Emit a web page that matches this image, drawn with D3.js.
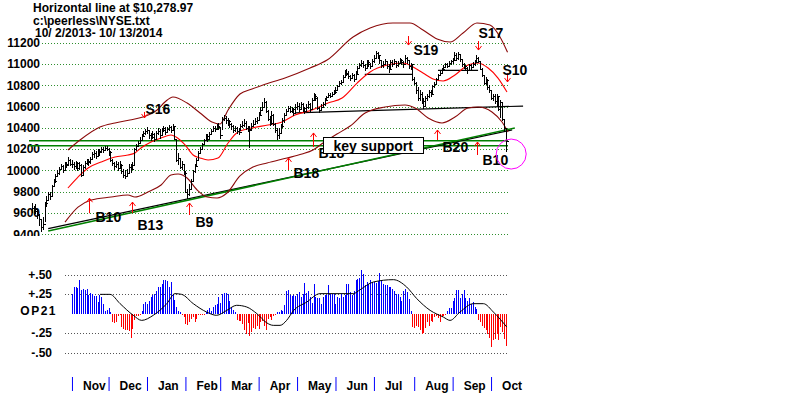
<!DOCTYPE html>
<html>
<head>
<meta charset="utf-8">
<script src="https://cdn.jsdelivr.net/npm/d3@7"></script>
<style>
body { margin: 0; background: #fff; }
svg { display: block; font-family: Arial, "Liberation Sans", sans-serif; }
</style>
</head>
<body>
<div id="chart"></div>
<script>
const width = 800;
const height = 395;

// NYSE daily bars 10/2/2013 - 10/13/2014, one row per month
const highs = [
  9690, 9670, 9680, 9640, 9590, 9540, 9560, 9700, 9760, 9800, 9800, 9860, 9920, 9970, 10000, 10030, 10060, 10050, 10080, 10080, 10130, 10110,
  10100, 10080, 10090, 10080, 10080, 10060, 10050, 10090, 10110, 10110, 10130, 10170, 10190, 10180, 10200, 10200, 10220, 10220, 10230, 10230,
  10210, 10180, 10110, 10080, 10090, 10080, 10090, 10060, 10010, 10000, 10010, 10060, 10060, 10080, 10210, 10250, 10280, 10310, 10340, 10370, 10390,
  10410, 10380, 10350, 10370, 10350, 10370, 10400, 10390, 10400, 10420, 10410, 10410, 10430, 10420, 10440, 10420, 10300, 10160, 10120, 10090, 10060,
  9990, 9830, 9870, 9920, 10000, 10060, 10120, 10180, 10220, 10260, 10300, 10340, 10340, 10360, 10390, 10420, 10420, 10440, 10450,
  10400, 10500, 10520, 10510, 10490, 10470, 10450, 10430, 10420, 10410, 10400, 10440, 10460, 10480, 10460, 10420, 10420, 10450, 10470, 10490, 10500,
  10550, 10600, 10640, 10680, 10650, 10570, 10510, 10560, 10530, 10450, 10400, 10400, 10440, 10490, 10540, 10580, 10610, 10610, 10600, 10590, 10620,
  10640, 10630, 10640, 10630, 10600, 10620, 10650, 10630, 10680, 10730, 10720, 10690, 10600, 10620, 10640, 10680, 10700, 10730, 10730, 10740, 10760,
  10780, 10800, 10840, 10850, 10900, 10940, 10950, 10930, 10900, 10920, 10910, 10930, 10980, 11010, 11040, 11030, 11000, 11040, 11040, 11010, 11050,
  11080, 11120, 11110, 11080, 11040, 11030, 11050, 11030, 11000, 11040, 11040, 11050, 11030, 11030, 11060, 11050, 11030, 11080, 11070, 11040, 11010, 10990,
  10880, 10830, 10780, 10760, 10740, 10680, 10700, 10720, 10760, 10760, 10800, 10830, 10870, 10910, 10940, 10960, 10990, 11010, 11010, 11030, 11040,
  11060, 11110, 11100, 11110, 11090, 11040, 11010, 10990, 10970, 11000, 11000, 11020, 11040, 11080, 11070, 11030, 10960, 10900, 10880, 10860, 10800,
  10760, 10720, 10720, 10720, 10700, 10660, 10640, 10480, 10400
];
const lows = [
  9600, 9580, 9590, 9540, 9480, 9420, 9440, 9520, 9660, 9720, 9720, 9760, 9840, 9880, 9940, 9960, 10000, 9980, 10000, 10020, 10040, 10040,
  10020, 10000, 10010, 9990, 10000, 9940, 9960, 10010, 10050, 10040, 10060, 10100, 10120, 10110, 10130, 10140, 10160, 10160, 10180, 10180,
  10140, 10080, 10040, 10000, 10020, 9990, 10010, 9970, 9930, 9920, 9940, 9980, 9980, 10000, 10040, 10180, 10220, 10250, 10280, 10310, 10330,
  10340, 10300, 10280, 10300, 10270, 10300, 10330, 10300, 10330, 10360, 10330, 10350, 10370, 10350, 10370, 10290, 10080, 10050, 10010, 10000, 9960,
  9790, 9730, 9760, 9820, 9900, 9980, 10040, 10090, 10150, 10200, 10240, 10280, 10270, 10290, 10330, 10360, 10360, 10380, 10380,
  10300, 10380, 10460, 10440, 10420, 10400, 10380, 10350, 10360, 10340, 10330, 10370, 10400, 10410, 10380, 10360, 10210, 10380, 10410, 10430, 10440,
  10460, 10510, 10560, 10590, 10540, 10460, 10420, 10430, 10420, 10350, 10290, 10300, 10340, 10400, 10450, 10510, 10550, 10540, 10540, 10510, 10530,
  10570, 10550, 10570, 10550, 10530, 10550, 10580, 10550, 10580, 10650, 10650, 10570, 10540, 10560, 10590, 10610, 10650, 10680, 10680, 10690, 10710,
  10720, 10750, 10780, 10800, 10830, 10870, 10890, 10860, 10840, 10860, 10830, 10860, 10900, 10950, 10970, 10960, 10930, 10960, 10970, 10950, 10980,
  11010, 11050, 11050, 11000, 10960, 10960, 10990, 10950, 10920, 10940, 10970, 10990, 10960, 10970, 11000, 10990, 10960, 11010, 11000, 10950, 10940, 10840,
  10800, 10720, 10650, 10650, 10620, 10580, 10600, 10650, 10680, 10690, 10720, 10770, 10800, 10850, 10890, 10910, 10940, 10960, 10960, 10970, 10990,
  11000, 11030, 11030, 11040, 11020, 10970, 10950, 10930, 10910, 10930, 10940, 10960, 10980, 11020, 11010, 10940, 10880, 10800, 10800, 10760, 10730,
  10660, 10650, 10620, 10600, 10560, 10490, 10460, 10360, 10170
];
const closes = [
  9650, 9620, 9640, 9580, 9540, 9470, 9500, 9690, 9720, 9780, 9760, 9850, 9900, 9950, 9980, 10010, 10040, 10000, 10060, 10050, 10100, 10060,
  10060, 10040, 10070, 10020, 10050, 9960, 10030, 10070, 10090, 10080, 10110, 10150, 10160, 10140, 10180, 10170, 10200, 10190, 10210, 10200,
  10170, 10100, 10070, 10040, 10060, 10020, 10050, 9990, 9960, 9950, 9980, 10030, 10010, 10050, 10200, 10230, 10260, 10290, 10320, 10350, 10370,
  10380, 10330, 10310, 10340, 10300, 10350, 10370, 10330, 10380, 10400, 10360, 10390, 10410, 10380, 10420, 10300, 10100, 10120, 10030, 10060, 9980,
  9800, 9780, 9830, 9900, 9990, 10040, 10100, 10160, 10200, 10250, 10290, 10320, 10300, 10340, 10370, 10400, 10390, 10420, 10410,
  10330, 10480, 10490, 10470, 10460, 10440, 10420, 10380, 10400, 10370, 10360, 10420, 10430, 10450, 10400, 10390, 10380, 10420, 10440, 10460, 10470,
  10520, 10570, 10600, 10640, 10560, 10480, 10450, 10520, 10440, 10380, 10330, 10350, 10420, 10470, 10520, 10560, 10590, 10560, 10580, 10540, 10600,
  10610, 10580, 10620, 10590, 10560, 10600, 10620, 10580, 10660, 10700, 10680, 10590, 10570, 10600, 10620, 10660, 10690, 10710, 10700, 10720, 10740,
  10760, 10790, 10820, 10830, 10880, 10910, 10920, 10890, 10870, 10900, 10860, 10910, 10960, 10990, 11010, 10990, 10960, 11020, 11000, 10980, 11030,
  11060, 11100, 11080, 11040, 10990, 11000, 11030, 10980, 10950, 11020, 11000, 11030, 10990, 11010, 11040, 11020, 11000, 11060, 11040, 10980, 11000, 10860,
  10820, 10760, 10680, 10720, 10650, 10610, 10680, 10700, 10740, 10720, 10790, 10810, 10860, 10900, 10920, 10950, 10970, 11000, 10980, 11010, 11030,
  11040, 11080, 11060, 11090, 11050, 11000, 10980, 10960, 10940, 10990, 10970, 11000, 11020, 11060, 11030, 10950, 10900, 10820, 10850, 10780, 10760,
  10680, 10700, 10650, 10700, 10580, 10640, 10480, 10400, 10279
];

const priceTicks = [9400, 9600, 9800, 10000, 10200, 10400, 10600, 10800, 11000, 11200];
const months = ["Nov", "Dec", "Jan", "Feb", "Mar", "Apr", "May", "Jun", "Jul", "Aug", "Sep", "Oct"];
const monthStart = [22, 42, 63, 84, 103, 124, 145, 166, 187, 209, 230, 251];

// bands as [day, value]
const upperBand = [[19.8,10192],[26.4,10286],[37.3,10408],[45.5,10446],[53.7,10474],[60.8,10502],[68.5,10568],[72.8,10643],[77.2,10690],[84.9,10633],[92,10540],[98.5,10455],[102.9,10436],[107.3,10568],[113.8,10718],[120.4,10765],[126.4,10803],[138.4,10868],[152.1,10962],[161.4,11037],[175.6,11254],[184.9,11338],[197.4,11385],[206.7,11385],[213.8,11319],[221.5,11235],[228.6,11207],[235.7,11291],[243.3,11385],[250.4,11366],[255.9,11254],[260,11110]];
const midBand = [[19.8,9835],[25.3,9938],[30.8,10023],[37.9,10079],[45.5,10126],[52.6,10145],[56.4,10164],[59.7,10211],[65.2,10267],[70.7,10305],[76.1,10333],[78.9,10314],[83.8,10239],[88.2,10145],[92,10117],[96.4,10098],[101.8,10117],[107.3,10258],[112.7,10361],[120.4,10399],[129.1,10427],[136.8,10455],[143.9,10521],[153.2,10568],[161.9,10633],[169.6,10680],[177.8,10821],[184.9,10925],[194.2,10990],[202.9,11009],[208.4,10972],[213.8,10915],[219.3,10859],[224.8,10840],[231.3,10897],[238.4,10990],[243.9,11009],[249.4,10962],[254.8,10868],[259.7,10737]];
const lowerBand = [[18.2,9515],[25.3,9656],[32.5,9722],[43.4,9750],[52.6,9769],[56.4,9750],[63.5,9797],[70.7,9863],[76.1,9957],[80,9966],[84.9,9929],[90.4,9816],[95.9,9750],[101.3,9741],[106.7,9788],[113.8,9948],[120.9,10032],[128.6,10070],[139.5,10117],[147.7,10154],[153.7,10192],[159.2,10258],[166.8,10342],[174,10417],[182.2,10539],[193.1,10596],[204,10615],[209.5,10586],[216.6,10493],[224.2,10446],[231.3,10502],[238.4,10586],[243.9,10596],[251.5,10549],[257,10455],[260.3,10361]];

// drawn lines
const supportLevels = [10279, 10232];
const trendBlack = [[9, 9454], [262.5, 10380]];
const trendGreen = [[9, 9431], [264, 10399]];
const blackLevels = [
  [[143.9, 10540], [268.5, 10605]],
  [[182, 10903], [207.8, 10903]],
  [[222, 10940], [243.9, 10940]]
];

// signals: day, price at arrow tip
const signals = [
  {name: "S16", day: 61.4, price: 10493, dir: "down", len: 6, dx: 1, dy: -4},
  {name: "S19", day: 205.6, price: 11178, dir: "down", len: 9, dx: 5, dy: 10},
  {name: "S17", day: 243.9, price: 11131, dir: "down", len: 9, dx: 0, dy: -12},
  {name: "S10", day: 259.7, price: 10831, dir: "down", len: 9, dx: -5, dy: -7},
  {name: "B10", day: 31.3, price: 9739, dir: "up", len: 15, dx: 6, dy: 24},
  {name: "B13", day: 54.8, price: 9703, dir: "up", len: 11, dx: 5, dy: 28},
  {name: "B9", day: 86, price: 9694, dir: "up", len: 12, dx: 6, dy: 24},
  {name: "B18", day: 140, price: 10117, dir: "up", len: 12, dx: 5, dy: 20},
  {name: "B18", day: 153.7, price: 10352, dir: "up", len: 14, dx: 5, dy: 25},
  {name: "B20", day: 221.5, price: 10380, dir: "up", len: 10, dx: 5, dy: 22},
  {name: "B10", day: 243.3, price: 10267, dir: "up", len: 13, dx: 5, dy: 23}
];

// OP21 oscillator, first value is day 22
const op21Start = 22;
const op21 = [
  0.25, 0.35, 0.35, 0.33, 0.43, 0.31, 0.32, 0.31, 0.32, 0.24, 0.27, 0.26, 0.23, 0.23, 0.15, 0.24, 0.22, 0.13, 0.04, 0.05, 0.08, 0.03,
  -0.10, -0.12, -0.10, -0.03, -0.02, -0.17, -0.20, -0.21, -0.21, -0.22, -0.31, -0.20, -0.08, -0.03, -0.03, -0.02,
  0.04, 0.13, 0.15, 0.13, 0.17, 0.22, 0.24, 0.26, 0.30, 0.34, 0.34, 0.39, 0.43, 0.44, 0.42, 0.34, 0.41, 0.26, 0.18, 0.09, 0.04, 0.02,
  -0.02, -0.04, -0.13, -0.14, -0.11, -0.06, -0.04, -0.11, -0.07, -0.02, -0.02, -0.02, -0.01,
  0.03, 0.05, 0.08, 0.04, 0.09, 0.12, 0.13, 0.22, 0.14, 0.26, 0.27, 0.27, 0.26, 0.17, 0.09, 0.05, 0.03,
  -0.08, -0.09, -0.09, -0.13, -0.21, -0.26, -0.12, -0.28, -0.23, -0.18, -0.19, -0.15, -0.19, -0.10, -0.09, -0.16, -0.21, -0.06, -0.04, -0.08, -0.03, -0.02,
  0.02, 0.03, 0.05, 0.04, 0.12, 0.30, 0.31, 0.24, 0.23, 0.24, 0.23, 0.26, 0.28, 0.22, 0.25, 0.40, 0.27, 0.30, 0.22, 0.14, 0.39,
  0.22, 0.20, 0.20, 0.13, 0.22, 0.24, 0.24, 0.37, 0.26, 0.26, 0.26, 0.13, 0.22, 0.20, 0.26, 0.22, 0.24, 0.39, 0.39,
  0.28, 0.24, 0.30, 0.44, 0.45, 0.46, 0.56, 0.51, 0.37, 0.41, 0.39, 0.43, 0.41, 0.41, 0.40, 0.42, 0.53,
  0.43, 0.39, 0.37, 0.37, 0.35, 0.35, 0.32, 0.30, 0.26, 0.26, 0.22, 0.17, 0.30, 0.32, 0.28, 0.19, 0.04,
  -0.17, -0.18, -0.15, -0.17, -0.21, -0.26, -0.25, -0.18, -0.11, -0.16, -0.09, -0.11, -0.04, -0.03, -0.05, -0.11, -0.04, -0.03, -0.02,
  0.04, 0.07, 0.07, 0.17, 0.21, 0.31, 0.31, 0.20, 0.26, 0.31, 0.20, 0.17, 0.20, 0.13, 0.15, 0.09, 0.06,
  -0.08, -0.10, -0.15, -0.18, -0.21, -0.26, -0.31, -0.43, -0.34, -0.32, -0.26, -0.34, -0.17, -0.23, -0.32, -0.42
];
const op21Avg = [[37.3,0.251],[42.8,0.251],[48.3,0.131],[55.5,-0.019],[60.1,-0.084],[66.4,-0.019],[73.8,0.131],[78.3,0.26],[81.9,0.251],[88.3,0.131],[95.6,0.023],[101,-0.019],[106.6,0.045],[112,0.11],[117.5,0.088],[123,0.003],[128.4,-0.115],[132,-0.148],[135.7,-0.148],[139.3,-0.084],[143,0.04],[150.3,0.152],[157.5,0.26],[175.7,0.26],[179.4,0.31],[186.7,0.41],[197.6,0.44],[204.9,0.345],[210.4,0.196],[217.7,0.045],[224.9,-0.041],[228.6,-0.084],[234,0.023],[241.3,0.131],[246.8,0.131],[252.3,0.023],[259.6,-0.17]];
const opTicks = [0.5, 0.25, -0.25, -0.5];
const opTickLabels = ["+.50", "+.25", "-.25", "-.50"];

const header = ["Horizontal line at $10,278.97", "c:\\peerless\\NYSE.txt", "10/ 2/2013- 10/ 13/2014"];

// scales
const x = d3.scaleLinear().domain([0, 259]).range([31.7, 505.7]);
const y = d3.scaleLinear().domain([9400, 11200]).range([234.3, 42.7]);
const yOp = d3.scaleLinear().domain([-0.5, 0.5]).range([352.7, 275]);
const px = i => Math.round(x(i)) + 0.5;

const svg = d3.select("#chart")
  .append("svg")
  .attr("width", width)
  .attr("height", height);

svg.append("rect").attr("width", width).attr("height", height).attr("fill", "#fff");

// header text
svg.append("g")
  .attr("font-size", 12)
  .attr("font-weight", "bold")
  .selectAll("text")
  .data(header)
  .join("text")
  .attr("x", (d, k) => k == 2 ? 35 : 33)
  .attr("y", (d, k) => [12, 24.5, 37][k])
  .text(d => d);

// main panel, clipped at the bottom
svg.append("clipPath").attr("id", "mainClip")
  .append("rect").attr("x", 0).attr("y", 0).attr("width", width).attr("height", 236);
const main = svg.append("g").attr("clip-path", "url(#mainClip)");

// gridlines
main.append("g")
  .selectAll("line")
  .data(priceTicks)
  .join("line")
  .attr("x1", 42).attr("x2", 508)
  .attr("y1", d => Math.round(y(d)) + 0.5)
  .attr("y2", d => Math.round(y(d)) + 0.5)
  .attr("stroke", "#2f8f2f")
  .attr("stroke-dasharray", "1,2");

// y axis labels
const gy = main.append("g")
  .attr("transform", "translate(40,0)")
  .call(d3.axisLeft(y).tickValues(priceTicks).tickSize(0).tickPadding(0).tickFormat(d3.format("d")));
gy.select(".domain").remove();
gy.attr("font-family", null).attr("font-size", 12).attr("font-weight", "bold");
gy.selectAll("text").attr("fill", "#000");

const lineXY = d3.line().x(d => x(d[0])).y(d => y(d[1]));

// horizontal support lines
main.append("g")
  .selectAll("line")
  .data(supportLevels)
  .join("line")
  .attr("x1", 29).attr("x2", 508)
  .attr("y1", d => y(d)).attr("y2", d => y(d))
  .attr("stroke", "#008000")
  .attr("stroke-width", 1.6);

// black level lines
main.append("g")
  .selectAll("path")
  .data(blackLevels)
  .join("path")
  .attr("d", lineXY)
  .attr("fill", "none")
  .attr("stroke", "#000")
  .attr("stroke-width", 1.2);

// trend lines
main.append("path").attr("d", lineXY(trendBlack))
  .attr("fill", "none").attr("stroke", "#000").attr("stroke-width", 1.3);
main.append("path").attr("d", lineXY(trendGreen))
  .attr("fill", "none").attr("stroke", "#008000").attr("stroke-width", 1.5);

// bands
const bandLine = d3.line().x(d => x(d[0])).y(d => y(d[1])).curve(d3.curveMonotoneX);
main.append("path").attr("d", bandLine(upperBand))
  .attr("fill", "none").attr("stroke", "#8b0a0a").attr("stroke-width", 1.1);
main.append("path").attr("d", bandLine(lowerBand))
  .attr("fill", "none").attr("stroke", "#8b0a0a").attr("stroke-width", 1.1);
main.append("path").attr("d", bandLine(midBand))
  .attr("fill", "none").attr("stroke", "#ff0000").attr("stroke-width", 1.1);

// price bars
const days = d3.range(closes.length);
const bars = main.append("g")
  .attr("stroke", "#000")
  .attr("shape-rendering", "crispEdges");
bars.selectAll("line.hl")
  .data(days)
  .join("line")
  .attr("class", "hl")
  .attr("x1", px).attr("x2", px)
  .attr("y1", i => y(highs[i]))
  .attr("y2", i => y(lows[i]));
bars.selectAll("line.cl")
  .data(days)
  .join("line")
  .attr("class", "cl")
  .attr("x1", px).attr("x2", i => px(i) + 2)
  .attr("y1", i => Math.round(y(closes[i])) + 0.5)
  .attr("y2", i => Math.round(y(closes[i])) + 0.5);

// signal arrows
const sig = main.append("g");
signals.forEach(s => {
  const sx = Math.round(x(s.day)) + 0.5;
  const sy = y(s.price);
  const k = s.dir == "up" ? 1 : -1;
  const g = sig.append("g").attr("stroke", "#ff0000").attr("stroke-width", 1).attr("fill", "none");
  g.append("line").attr("x1", sx).attr("x2", sx).attr("y1", sy).attr("y2", sy + k * s.len);
  g.append("path").attr("d", `M${sx - 3},${sy + k * 4}L${sx},${sy}L${sx + 3},${sy + k * 4}`);
  sig.append("text")
    .attr("x", sx + s.dx).attr("y", sy + s.dy)
    .attr("font-size", 14).attr("font-weight", "bold")
    .text(s.name);
});

// key support box
const box = main.append("g").attr("transform", `translate(${Math.round(x(159.2)) + 0.5},${Math.round(y(10314)) + 0.5})`);
box.append("rect").attr("width", 100).attr("height", 16).attr("fill", "#fff").attr("stroke", "#000");
box.append("text").attr("x", 10).attr("y", 13).attr("font-size", 14).attr("font-weight", "bold").text("key support");

// magenta circle
main.append("circle")
  .attr("cx", x(262)).attr("cy", y(10154)).attr("r", 15)
  .attr("fill", "none").attr("stroke", "#ff00ff").attr("stroke-width", 1);

// OP21 panel
svg.append("g")
  .selectAll("line")
  .data(opTicks)
  .join("line")
  .attr("x1", 65).attr("x2", 508)
  .attr("y1", d => Math.round(yOp(d)) + 0.5)
  .attr("y2", d => Math.round(yOp(d)) + 0.5)
  .attr("stroke", "#555")
  .attr("stroke-dasharray", "1,2");

const opLabels = svg.append("g")
  .attr("font-size", 12).attr("font-weight", "bold").attr("text-anchor", "end");
opLabels.selectAll("text")
  .data(opTicks)
  .join("text")
  .attr("x", 52)
  .attr("y", d => yOp(d) + 4)
  .text((d, k) => opTickLabels[k]);
opLabels.append("text")
  .attr("x", 57).attr("y", yOp(0) + 1)
  .attr("letter-spacing", 1.5)
  .text("OP21");

const opData = op21.map((v, k) => ({i: k + op21Start, v: v}));
svg.append("g")
  .attr("shape-rendering", "crispEdges")
  .selectAll("line")
  .data(opData)
  .join("line")
  .attr("x1", d => px(d.i)).attr("x2", d => px(d.i))
  .attr("y1", yOp(0))
  .attr("y2", d => yOp(d.v))
  .attr("stroke", d => d.v >= 0 ? "#0000ff" : "#ff0000")
  .attr("stroke-width", 1);

svg.append("path")
  .attr("d", d3.line().x(d => x(d[0])).y(d => yOp(d[1])).curve(d3.curveMonotoneX)(op21Avg))
  .attr("fill", "none")
  .attr("stroke", "#000")
  .attr("stroke-width", 1);

// month axis
const gm = svg.append("g")
  .attr("transform", "translate(0,377)")
  .call(d3.axisBottom(x).tickValues(monthStart).tickSize(14).tickFormat((d, k) => months[k]));
gm.select(".domain").remove();
gm.attr("font-family", null).attr("font-size", 12).attr("font-weight", "bold");
gm.selectAll("line").attr("stroke", "#0000ff");
gm.selectAll("text")
  .attr("fill", "#000")
  .attr("text-anchor", "start")
  .attr("x", 10.5)
  .attr("y", 13)
  .attr("dy", 0);
</script>
</body>
</html>
